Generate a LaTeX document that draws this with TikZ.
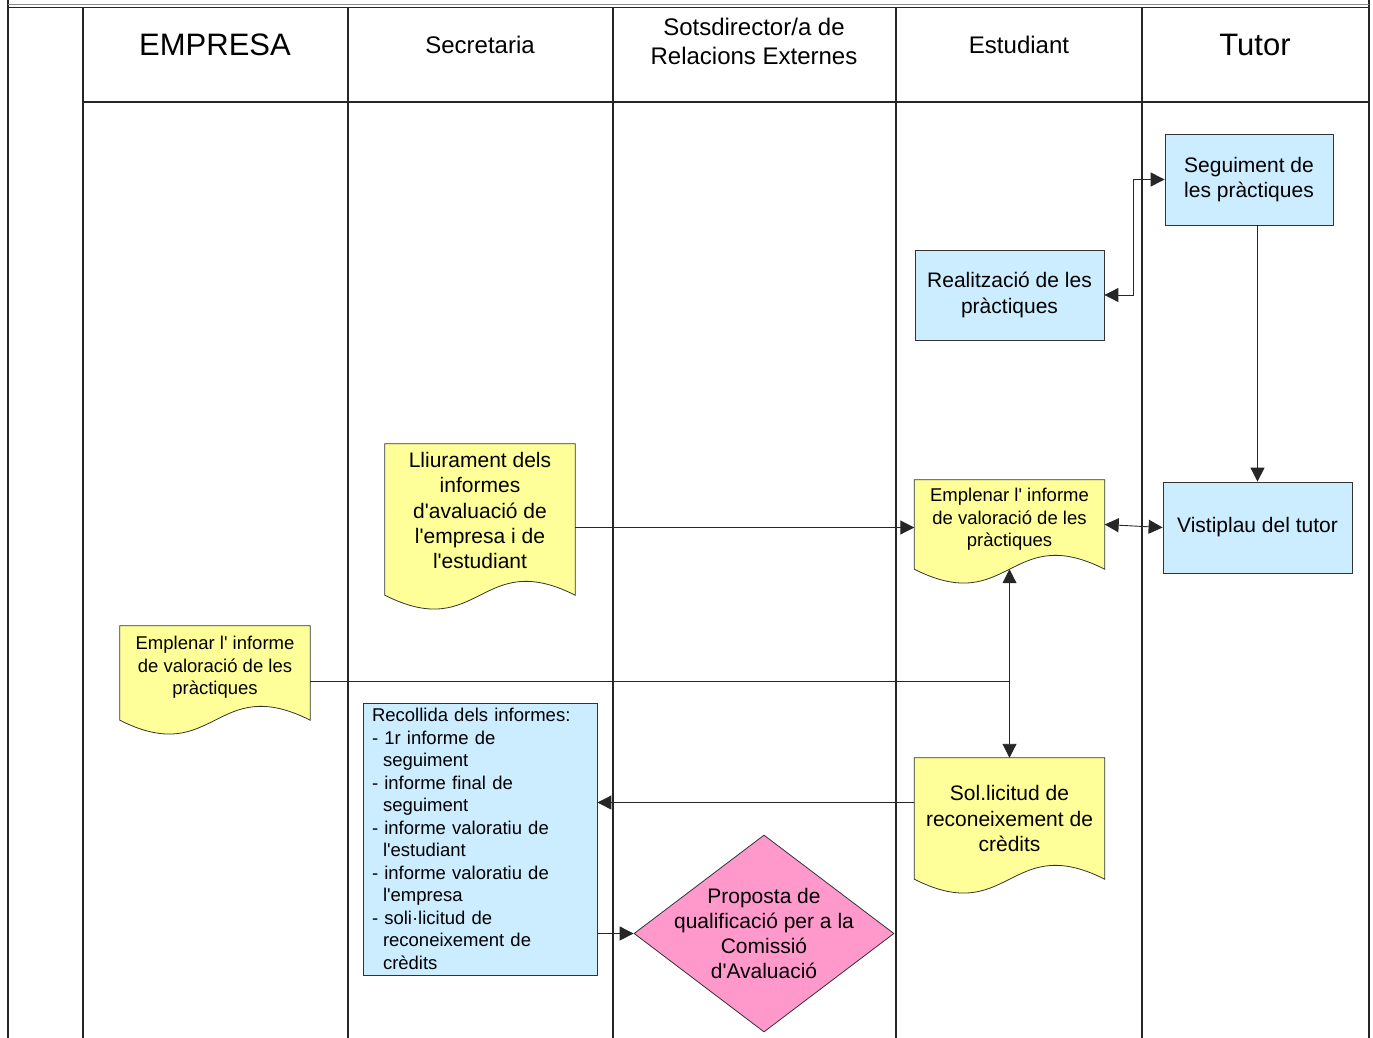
\documentclass[tikz,border=0pt]{standalone}
\usepackage{fontspec}
\setmainfont{Liberation Sans}
\usetikzlibrary{shapes.geometric,arrows.meta,backgrounds}
\definecolor{procblue}{HTML}{CCECFF}
\definecolor{docyellow}{HTML}{FFFF99}
\definecolor{decpink}{HTML}{FF99CC}
\definecolor{edgegray}{HTML}{333333}

\begin{document}
\begin{tikzpicture}[x=1pt,y=-1pt,
  >={Triangle[length=14pt,width=14pt]},
  every node/.style={font=\fontsize{21}{25.3}\selectfont},
  lane/.style={line width=1.2pt,black!85},
  lanehead/.style={font=\fontsize{24}{29}\selectfont,align=center},
  bighead/.style={font=\fontsize{31}{36}\selectfont},
  smalltext/.style={font=\fontsize{18.5}{22.5}\selectfont},
  procbox/.style={shape=rectangle,draw=edgegray,fill=procblue,line width=0.8pt,align=center,minimum width=189pt,minimum height=91pt},
  docbox/.style={shape=rectangle,align=center,minimum width=190pt},
  docshape/.style={draw=edgegray,fill=docyellow,line width=0.8pt},
  decision/.style={shape=diamond,draw=edgegray,fill=decpink,line width=0.8pt,align=center,minimum width=260pt,minimum height=197pt,inner sep=-30pt},
  flow/.style={line width=0.9pt,black!85}]

\useasboundingbox (0,0) rectangle (1373,1038);

\draw[lane] (8,0) -- (8,1038);
\draw[lane] (1369,0) -- (1369,1038);
\draw[line width=1.3pt,black!45] (8,4.5) -- (1369,4.5);
\draw[lane] (8,7.5) -- (1369,7.5);
\draw[lane] (83,102) -- (1369,102);
\foreach \x in {83,348,613,896,1142} \draw[lane] (\x,7.5) -- (\x,1038);

\node[bighead] (hEmpresa) at (215,45) {EMPRESA};
\node[lanehead] (hSecretaria) at (480,45) {Secretaria};
\node[lanehead] (hSotsdir) at (754,41.5) {Sotsdirector/a de\\Relacions Externes};
\node[lanehead] (hEstudiant) at (1019,45) {Estudiant};
\node[bighead] (hTutor) at (1255,45) {Tutor};

\node[procbox,minimum width=168pt] (Seguiment) at (1249,179.5) {Seguiment de\\les pràctiques};
\node[procbox,minimum height=90pt] (Realitzacio) at (1009.5,295) {Realització de les\\pràctiques};
\node[procbox] (Vistiplau) at (1257.5,527.5) {Vistiplau del tutor};
\node[procbox,smalltext,align=left,minimum height=272pt,text width=216pt,inner xsep=9pt] (Recollida) at (480,839) {Recollida dels informes:\\- 1r informe de\\\hspace*{11pt}seguiment\\- informe final de\\\hspace*{11pt}seguiment\\- informe valoratiu de\\\hspace*{11pt}l\textquotesingle estudiant\\- informe valoratiu de\\\hspace*{11pt}l\textquotesingle empresa\\- soli·licitud de\\\hspace*{11pt}reconeixement de\\\hspace*{11pt}crèdits};

\node[docbox,minimum height=151pt,text depth=18pt] (Lliurament) at (480,519.5) {Lliurament dels\\informes\\d\textquotesingle avaluació de\\l\textquotesingle empresa i de\\l\textquotesingle estudiant};
\node[docbox,smalltext,minimum height=89pt,text depth=14pt] (EmplenarEst) at (1009.5,524.5) {Emplenar l\textquotesingle{} informe\\de valoració de les\\pràctiques};
\node[docbox,smalltext,minimum height=94pt,text depth=15pt] (EmplenarEmp) at (215,673) {Emplenar l\textquotesingle{} informe\\de valoració de les\\pràctiques};
\node[docbox,minimum height=121pt] (Solicitud) at (1009.5,818.5) {Sol.licitud de\\reconeixement de\\crèdits};

\node[decision] (Proposta) at (764,933.5) {Proposta de\\qualificació per a la\\Comissió\\d\textquotesingle Avaluació};

\begin{scope}[on background layer]
\foreach \d in {Lliurament,EmplenarEst,EmplenarEmp,Solicitud}
  \draw[docshape] (\d.north west) -- (\d.north east) -- (\d.south east)
    .. controls +(-95,-48) and +(95,48) .. (\d.south west) -- cycle;
\end{scope}

\coordinate (Junction) at (1009.5,681);

\draw[flow,<->] (Realitzacio.east) -- ++(29,0) |- (Seguiment.west);
\draw[flow,->] (Vistiplau.north |- Seguiment.south) -- (Vistiplau.north);
\draw[flow,->] (Lliurament.east |- Vistiplau.west) -- (EmplenarEst.west |- Vistiplau.west);
\draw[flow,<->] (EmplenarEst.east) -- (Vistiplau.west);
\draw[flow,<->] (EmplenarEst.south) -- (Solicitud.north);
\draw[flow] (EmplenarEmp.east |- Junction) -- (Junction);
\draw[flow,->] ([yshift=16pt]Solicitud.west) -- ([yshift=16pt]Solicitud.west -| Recollida.east);
\draw[flow,->] (Recollida.east |- Proposta.west) -- (Proposta.west);

\end{tikzpicture}
\end{document}
